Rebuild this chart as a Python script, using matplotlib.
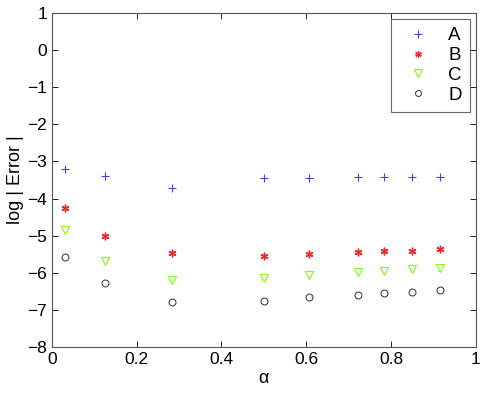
import matplotlib.pyplot as plt

plt.rcParams['font.family'] = ['Liberation Sans', 'DejaVu Sans']

alpha = [0.030, 0.125, 0.283, 0.500, 0.607, 0.723, 0.784, 0.849, 0.915]
err_a = [-3.20, -3.38, -3.72, -3.44, -3.44, -3.43, -3.43, -3.43, -3.42]
err_b = [-4.26, -5.00, -5.48, -5.56, -5.49, -5.43, -5.41, -5.40, -5.37]
err_c = [-4.84, -5.67, -6.19, -6.15, -6.06, -5.98, -5.94, -5.90, -5.87]
err_d = [-5.57, -6.28, -6.79, -6.77, -6.66, -6.59, -6.54, -6.51, -6.47]

fig = plt.figure(figsize=(4.85, 3.93), dpi=100)
ax = fig.add_axes([0.107, 0.117, 0.874, 0.850])

ax.plot(alpha, err_a, '+', color='#4040ff', ms=6, mew=0.8, label='A')
ax.plot(alpha, err_b, marker=(6, 2, 0), ls='none', color='#ff2020', ms=5.5, mew=1.0, label='B')
ax.plot(alpha, err_c, 'v', color='#80ff00', mfc='none', ms=6, mew=0.8, label='C')
ax.plot(alpha, err_d, 'o', color='#303030', mfc='none', ms=5, mew=0.7, label='D')

ax.set_xlim(0, 1)
ax.set_ylim(-8, 1)
ax.set_xticks([0, 0.2, 0.4, 0.6, 0.8, 1])
ax.set_xticklabels(['0', '0.2', '0.4', '0.6', '0.8', '1'])
ax.set_yticks(range(-8, 2))
ax.set_yticklabels(['\u2212%d' % abs(v) if v < 0 else str(v) for v in range(-8, 2)])
ax.tick_params(direction='in', top=True, right=True, labelsize=12.5, length=4, width=0.6)
for s in ax.spines.values():
    s.set_linewidth(0.8)
    s.set_color('#555555')

ax.set_xlabel('\u03b1', fontsize=13, labelpad=2)
ax.set_ylabel('log | Error |', fontsize=13, labelpad=2)

leg = ax.legend(loc='upper right', fontsize=13.5, frameon=True, fancybox=False,
                edgecolor='#444444', handlelength=2.0, handletextpad=0.6,
                borderaxespad=0.3, labelspacing=0.15, borderpad=0.45, markerscale=0.85)
leg.get_frame().set_linewidth(0.8)

fig.savefig('out.png', dpi=100)
